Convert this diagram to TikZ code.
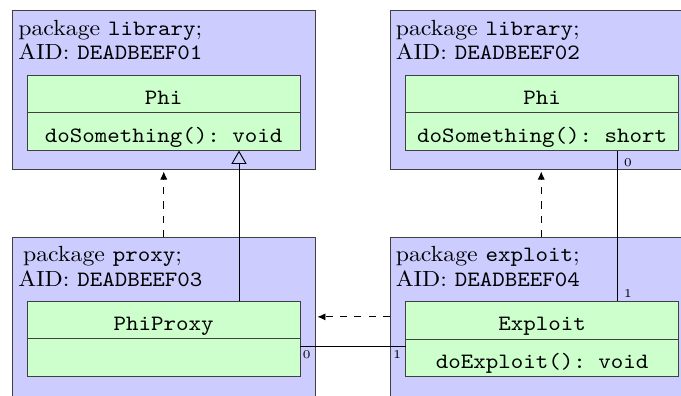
\documentclass[tikz,border=0pt]{standalone}
\usepackage{graphicx}
\usetikzlibrary{arrows.meta,calc}
\newcommand\vsq[1]{\scalebox{1}[0.92]{#1}}
\begin{document}
\begin{tikzpicture}[x=0.42pt,y=-0.42pt,
  pkg/.style={draw=black!75, fill=blue!20, minimum width=127.05pt, minimum height=66.6pt, anchor=north west, inner sep=0pt, outer sep=0pt},
  cls/.style={draw=black!75, fill=green!20, minimum width=114.66pt, minimum height=15.88pt, anchor=north west, inner xsep=0pt, inner ysep=0pt, text height=12.31pt, text depth=3.57pt, font=\ttfamily, outer sep=0pt},
  pkgtxt/.style={anchor=base west, inner sep=0pt},
  dep/.style={dashed, -{Latex[length=3.4pt,width=3pt]}, shorten >=1pt},
  real/.style={-{Triangle[open,length=5.6pt,width=6.4pt]}},
  lbl/.style={font=\tiny, inner sep=0pt},
]
\useasboundingbox (0,0) rectangle (681,395);
\fill[white] (0,0) rectangle (681,395);
\clip (0,0) rectangle (681,395);

% packages
\node[pkg] (pkgA) at (12.5,10.5) {};
\node[pkg] (pkgB) at (390,10.5) {};
\node[pkg, minimum height=66.9pt] (pkgC) at (12.5,237.2) {};
\node[pkg, minimum height=66.9pt] (pkgD) at (390,237.2) {};

% package labels
\node[pkgtxt] (tA) at ([shift={(5.3,24.5)}]pkgA.north west) {\vsq{\begin{tabular}[t]{@{}l@{}}package \texttt{library};\\[-0.6pt]AID: \texttt{DEADBEEF01}\end{tabular}}};
\node[pkgtxt] (tB) at ([shift={(5.3,24.5)}]pkgB.north west) {\vsq{\begin{tabular}[t]{@{}l@{}}package \texttt{library};\\[-0.6pt]AID: \texttt{DEADBEEF02}\end{tabular}}};
\node[pkgtxt] (tC) at ([shift={(5.3,24.5)}]pkgC.north west) {\vsq{\begin{tabular}[t]{@{}l@{}}\hspace{2pt}package \texttt{proxy};\\[-0.6pt]AID: \texttt{DEADBEEF03}\end{tabular}}};
\node[pkgtxt] (tD) at ([shift={(5.3,24.5)}]pkgD.north west) {\vsq{\begin{tabular}[t]{@{}l@{}}package \texttt{exploit};\\[-0.6pt]AID: \texttt{DEADBEEF04}\end{tabular}}};

% classes
\node[cls] (a1) at (27,75) {\vsq{Phi}};
\node[cls] (a2) at (a1.south west) {\vsq{doSomething():\ void}};
\node[cls] (b1) at (405.7,75) {\vsq{Phi}};
\node[cls] (b2) at (b1.south west) {\vsq{doSomething():\ short}};
\node[cls] (c1) at (27,301) {\vsq{PhiProxy}};
\node[cls] (c2) at (c1.south west) {};
\node[cls] (d1) at (405.7,301.2) {\vsq{Exploit}};
\node[cls] (d2) at (d1.south west) {\vsq{doExploit():\ void}};

% dependencies
\draw[dep] (pkgC.north) -- (pkgA.south);
\draw[dep] (pkgD.north) -- (pkgB.south);
\draw[dep] (pkgD.west) -- (pkgC.east);

% realization
\coordinate (rx) at (239,0);
\draw[real] (c1.north -| rx) -- (a2.south -| rx);

% associations
\coordinate (vx) at (617,0);
\draw (b2.south -| vx) -- (d1.north -| vx)
  node[lbl, at start, xshift=4.62pt, yshift=-5.17pt] (lv0) {0}
  node[lbl, at end, xshift=4.62pt, yshift=3.23pt] (lv1) {1};
\coordinate (hy) at (0,346.7);
\draw (c2.east |- hy) -- (d2.west |- hy)
  node[lbl, at start, xshift=2.81pt, yshift=-3.49pt] (lh0) {0}
  node[lbl, at end, xshift=-3.53pt, yshift=-3.49pt] (lh1) {1};
\end{tikzpicture}
\end{document}
